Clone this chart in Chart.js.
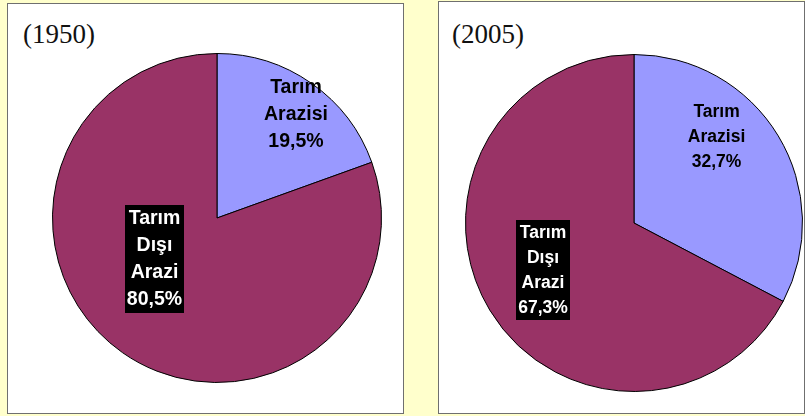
<!DOCTYPE html>
<html>
<head>
<meta charset="utf-8">
<title>Tarım Arazisi 1950 - 2005</title>
<script src="https://cdn.jsdelivr.net/npm/chart.js@4/dist/chart.umd.min.js"></script>
<style>
  html, body { margin: 0; padding: 0; }
  body {
    width: 805px; height: 416px; overflow: hidden; position: relative;
    background: #FFFFCC;
  }
  .panel {
    position: absolute; background: #fff;
    border: 1px solid #6f6f6f; box-sizing: border-box;
  }
  .year {
    position: absolute; font-family: "Liberation Serif", "Times New Roman", serif;
    font-size: 27px; line-height: 27px; color: #111;
  }
  canvas { position: absolute; }
</style>
</head>
<body>
<div class="panel" style="left:7px; top:3px; width:397px; height:411px;"></div>
<div class="panel" style="left:438px; top:1px; width:367px; height:413px;"></div>
<div class="year" style="left:23px; top:21px;">(1950)</div>
<div class="year" style="left:452px; top:21px;">(2005)</div>
<div style="position:absolute; left:49px; top:50px; width:336px; height:336px;"><canvas id="pie1950"></canvas></div>
<div style="position:absolute; left:462px; top:51px; width:344px; height:344px;"><canvas id="pie2005"></canvas></div>

<script>
// Land use shares (%)
const categories = ['Tarım Arazisi', 'Tarım Dışı Arazi'];
const values1950 = [19.5, 80.5];
const values2005 = [32.7, 67.3];
const sliceColors = ['#9999FF', '#993366'];

// Draws the category name + percentage inside each slice
const sliceLabels = {
    id: 'sliceLabels',
    afterDatasetsDraw(chart, args, opts) {
        const ctx = chart.ctx;
        const meta = chart.getDatasetMeta(0);
        const data = chart.data.datasets[0].data;
        meta.data.forEach(function(arc, i) {
            const r = arc.outerRadius;
            const off = opts.offsets[i];
            const cx = arc.x + off[0] * r;
            const cy = arc.y + off[1] * r;
            const lines = chart.data.labels[i].split(' ');
            lines.push(data[i].toFixed(1).replace('.', ',') + '%');

            ctx.save();
            ctx.font = 'bold ' + opts.size + 'px "Liberation Sans", Arial, sans-serif';
            ctx.textAlign = 'center';
            ctx.textBaseline = 'middle';
            const lh = opts.lineHeight;
            const top = cy - lh * lines.length / 2;

            if (opts.boxed[i]) {
                let w = 0;
                lines.forEach(function(t) { w = Math.max(w, ctx.measureText(t).width); });
                ctx.fillStyle = '#000';
                ctx.fillRect(Math.round(cx - w / 2 - 2), Math.round(top), Math.round(w + 4), Math.round(lh * lines.length));
                ctx.fillStyle = '#fff';
            } else {
                ctx.fillStyle = '#000';
            }
            lines.forEach(function(t, k) {
                ctx.fillText(t, cx, top + lh * (k + 0.5));
            });
            ctx.restore();
        });
    }
};

function makePie(id, values, labelOpts) {
    return new Chart(document.getElementById(id), {
        type: 'pie',
        data: {
            labels: categories,
            datasets: [{
                data: values,
                backgroundColor: sliceColors,
                borderColor: '#000',
                borderWidth: 1
            }]
        },
        options: {
            responsive: true,
            maintainAspectRatio: false,
            animation: false,
            layout: { padding: 3 },
            plugins: {
                legend: { display: false },
                tooltip: { enabled: false },
                sliceLabels: labelOpts
            }
        },
        plugins: [sliceLabels]
    });
}

makePie('pie1950', values1950, {
    size: 19.5, lineHeight: 27,
    offsets: [[0.48, -0.63], [-0.38, 0.25]],
    boxed: [false, true]
});
makePie('pie2005', values2005, {
    size: 17.5, lineHeight: 25,
    offsets: [[0.49, -0.51], [-0.54, 0.28]],
    boxed: [false, true]
});
</script>
</body>
</html>
